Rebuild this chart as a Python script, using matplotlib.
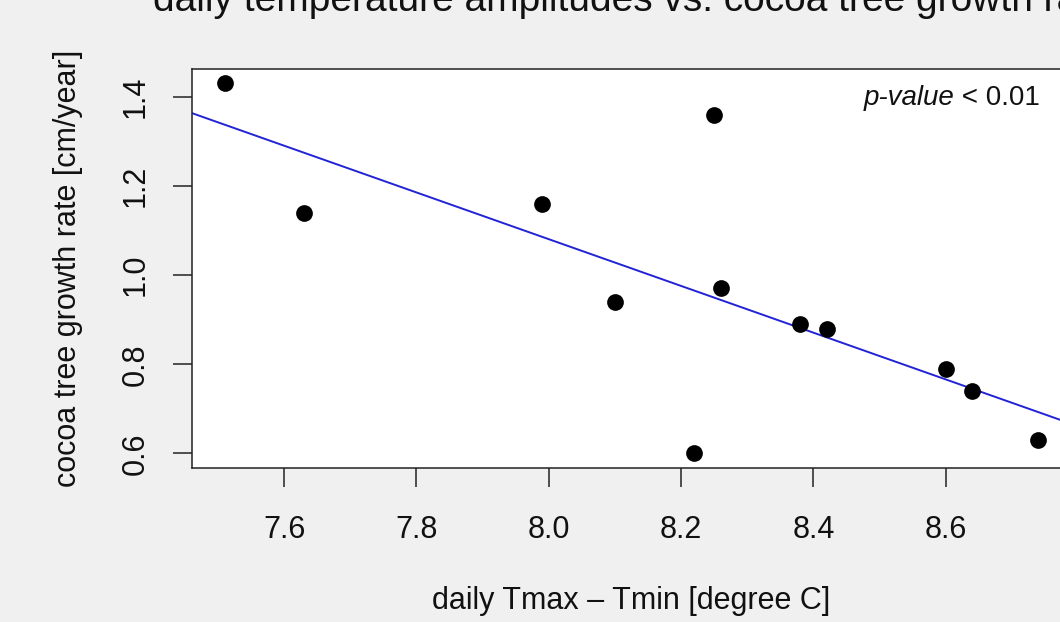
import numpy as np
import matplotlib
matplotlib.use("Agg")
import matplotlib.pyplot as plt

# data
amplitude = [7.51, 7.63, 7.99, 8.10, 8.22, 8.25, 8.26, 8.38, 8.42, 8.60, 8.64, 8.74]
growth = [1.43, 1.14, 1.16, 0.94, 0.60, 1.36, 0.97, 0.89, 0.88, 0.79, 0.74, 0.63]
xticks = [7.6, 7.8, 8.0, 8.2, 8.4, 8.6]
yticks = [0.6, 0.8, 1.0, 1.2, 1.4]

plt.rcParams['font.family'] = ['Liberation Sans', 'DejaVu Sans']

W, H = 1060, 622
fig = plt.figure(figsize=(W / 100, H / 100), dpi=100)
fig.patch.set_facecolor('#f0f0f0')

left, right, top, bottom = 192, 1071, 68.5, 468.3
ax = fig.add_axes([left / W, 1 - bottom / H, (right - left) / W, (bottom - top) / H])
ax.set_facecolor('white')

x = np.array(amplitude)
y = np.array(growth)
xr = x.max() - x.min()
yr = y.max() - y.min()
ax.set_xlim(x.min() - 0.04 * xr, x.max() + 0.04 * xr)
ax.set_ylim(y.min() - 0.04 * yr, y.max() + 0.04 * yr)

slope, intercept = np.polyfit(x, y, 1)
xl = np.array(ax.get_xlim())
ax.plot(xl, intercept + slope * xl, color='#2323d6', lw=1.4, zorder=2)
ax.scatter(x, y, s=145, color='black', zorder=3, linewidths=0)

ax.set_xticks(xticks)
ax.set_xticklabels([f"{v:.1f}" for v in xticks])
ax.set_yticks(yticks)
ax.set_yticklabels([f"{v:.1f}" for v in yticks], rotation=90, va='center')
ax.tick_params(axis='both', direction='out', length=13.5, width=1.1, color='#222222',
               labelsize=22, labelcolor='#111111')
ax.tick_params(axis='x', pad=20)
ax.tick_params(axis='y', pad=16)
for s in ax.spines.values():
    s.set_linewidth(1.1)
    s.set_color('#222222')

# p-value annotation: italic part + regular part
t2 = fig.text(1040 / W, 1 - 105 / H, ' < 0.01', ha='right', va='baseline', fontsize=20, color='#111111')
fig.canvas.draw()
bb = t2.get_window_extent()
fig.text(bb.x0 / W, 1 - 105 / H, 'p-value', ha='right', va='baseline', fontsize=20,
         style='italic', color='#111111')

fig.text(631.5 / W, 1 - 11 / H, 'daily temperature amplitudes vs. cocoa tree growth rate',
         ha='center', va='baseline', fontsize=28, color='#111111')
fig.text(631.5 / W, 1 - 609 / H, 'daily Tmax \u2013 Tmin [degree C]',
         ha='center', va='baseline', fontsize=22, color='#111111')
fig.text(68 / W, 1 - 268 / H, 'cocoa tree growth rate [cm/year]', rotation=90,
         ha='center', va='center', fontsize=22, color='#111111')

fig.savefig('out.png', dpi=100, facecolor=fig.get_facecolor())
